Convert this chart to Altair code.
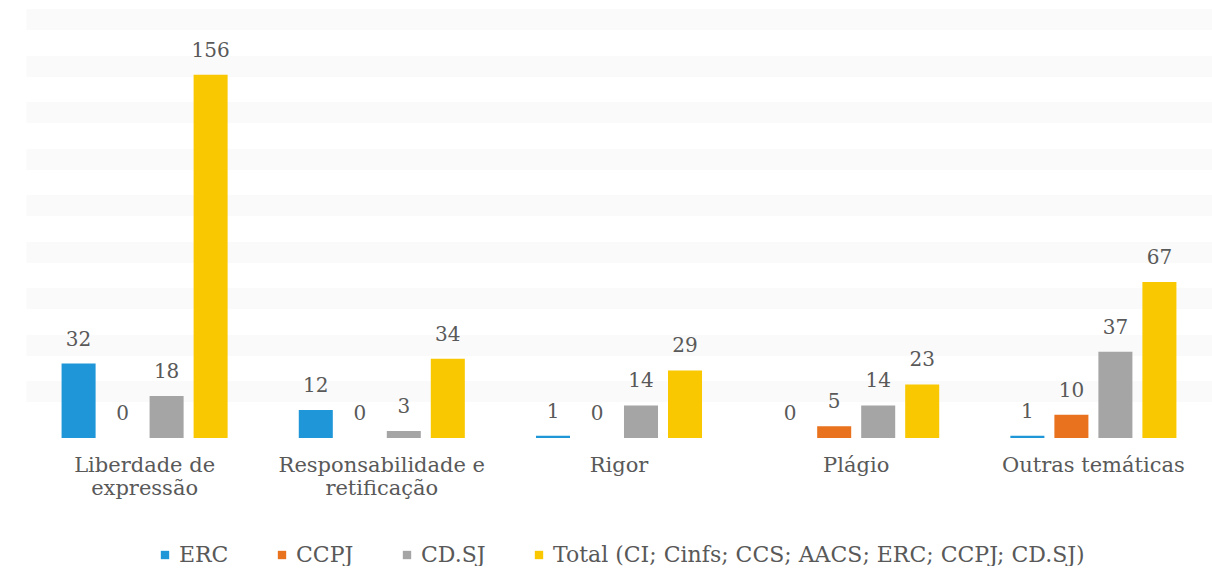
import altair as alt
import pandas as pd

categories = ["Liberdade de expressão", "Responsabilidade e retificação", "Rigor", "Plágio", "Outras temáticas"]
series = ["ERC", "CCPJ", "CD.SJ", "Total (CI; Cinfs; CCS; AACS; ERC; CCPJ; CD.SJ)"]
erc = [32, 12, 1, 0, 1]
ccpj = [0, 0, 0, 5, 10]
cdsj = [18, 3, 14, 14, 37]
total = [156, 34, 29, 23, 67]
colors = ["#1E96D8", "#E8721E", "#A5A5A5", "#F9C800"]

rows = []
for s, vals in zip(series, [erc, ccpj, cdsj, total]):
    for c, v in zip(categories, vals):
        rows.append({"Categoria": c, "Série": s, "Valor": v})
df = pd.DataFrame(rows)

font = "DejaVu Serif"
textcol = "#595959"

label_expr = (
    "datum.label == 'Liberdade de expressão' ? ['Liberdade de', 'expressão'] : "
    "datum.label == 'Responsabilidade e retificação' ? ['Responsabilidade e', 'retificação'] : datum.label"
)

x = alt.X("Categoria:N", sort=categories, title=None,
          scale=alt.Scale(paddingInner=0.30, paddingOuter=0.15),
          axis=alt.Axis(labelAngle=0, labelExpr=label_expr, labelFont=font, labelFontSize=21,
                        labelColor=textcol, labelPadding=16, labelLineHeight=23, labelLimit=400,
                        ticks=False, domain=False, grid=False, labelBaseline="top"))
xo = alt.XOffset("Série:N", sort=series, scale=alt.Scale(paddingInner=0.227, paddingOuter=0))
y = alt.Y("Valor:Q", title=None, scale=alt.Scale(domain=[0, 180], nice=False),
          axis=alt.Axis(labels=False, ticks=False, domain=False, values=list(range(20, 181, 20)),
                        gridColor="#FAFAFA", gridWidth=21))

bars = alt.Chart(df).mark_bar().encode(
    x=x, xOffset=xo, y=y,
    color=alt.Color("Série:N", sort=series,
                    scale=alt.Scale(domain=series, range=colors),
                    legend=alt.Legend(orient="none", direction="horizontal", title=None,
                                      legendX=128, legendY=525,
                                      labelFont=font, labelFontSize=22, labelColor=textcol,
                                      labelLimit=800,
                                      symbolType="square", symbolSize=70, symbolStrokeWidth=0,
                                      columnPadding=42, labelOffset=3, columns=4)),
)

labels = alt.Chart(df).mark_text(font=font, fontSize=20, color=textcol, baseline="alphabetic", dy=-18).encode(
    x=alt.X("Categoria:N", sort=categories), xOffset=alt.XOffset("Série:N", sort=series), y="Valor:Q",
    text="Valor:Q",
)

chart = (bars + labels).properties(
    width=1186, height=419,
    padding={"left": 26, "top": 19, "right": 0, "bottom": 0},
    background="white",
).configure_view(stroke=None)

chart.save("out.html", embed_options={"renderer": "svg", "actions": False})
